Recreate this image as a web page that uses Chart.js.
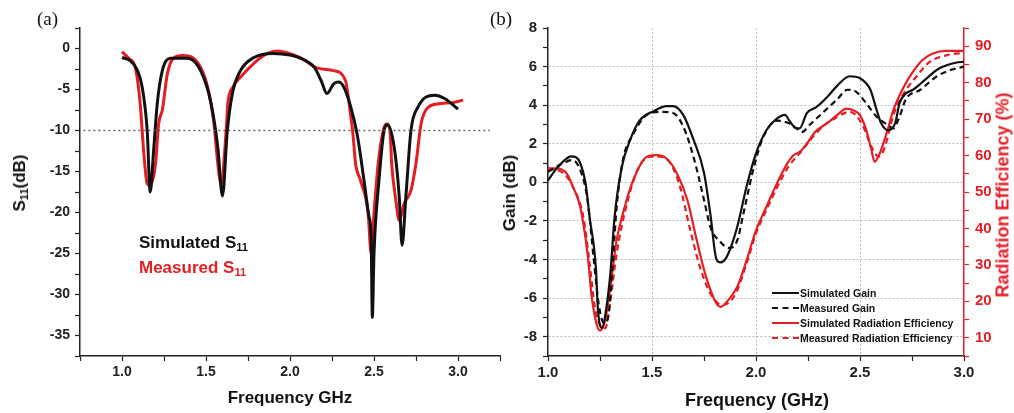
<!DOCTYPE html>
<html>
<head>
<meta charset="utf-8">
<script src="https://cdn.jsdelivr.net/npm/chart.js@4"></script>
<style>
  body { margin: 0; background: #fff; width: 1014px; height: 413px; position: relative; overflow: hidden;
         font-family: "Liberation Sans", Arial, sans-serif; }
  canvas { position: absolute; top: 0; }
  #ca { left: 0; }
  #cb { left: 490px; }
  .lbl { position: absolute; font-family: "Liberation Serif", "Times New Roman", serif; font-size: 19px; color: #111; }
  .ttl { position: absolute; font-weight: bold; white-space: nowrap; color: #111; transform: translate(-50%, -50%); }
  .rot { transform: translate(-50%, -50%) rotate(-90deg); }
  .ttl sub { font-size: 0.65em; vertical-align: -0.25em; }
  .leg { position: absolute; font-weight: bold; white-space: nowrap; font-size: 17px; transform: translateY(-50%); }
  .leg sub { font-size: 0.65em; vertical-align: -0.3em; }
  .lg2 { position: absolute; left: 772px; font-weight: bold; font-size: 10.5px; white-space: nowrap; color: #111;
         transform: translateY(-50%); display: flex; align-items: center; }
  .lg2 i { display: inline-block; width: 27px; margin-right: 1px; border-top: 2.5px solid #111; }
</style>
</head>
<body>
<canvas id="ca" width="503" height="413"></canvas>
<canvas id="cb" width="524" height="413"></canvas>

<div class="lbl" style="left:37px;top:8px">(a)</div>
<div class="lbl" style="left:490px;top:8px">(b)</div>

<div class="ttl rot" style="left:20px;top:183px;font-size:17px">S<sub>11</sub>(dB)</div>
<div class="ttl" style="left:290px;top:398px;font-size:17px">Frequency GHz</div>
<div class="leg" style="left:139px;top:243px;color:#111">Simulated S<sub>11</sub></div>
<div class="leg" style="left:139px;top:268px;color:#e31e24">Measured S<sub>11</sub></div>

<div class="ttl rot" style="left:510px;top:193px;font-size:17px">Gain (dB)</div>
<div class="ttl rot" style="left:1003px;top:195px;font-size:18px;color:#e31e24">Radiation Efficiency (%)</div>
<div class="ttl" style="left:757px;top:400px;font-size:18px">Frequency (GHz)</div>

<div class="lg2" style="top:293px"><i></i>Simulated Gain</div>
<div class="lg2" style="top:308px"><i style="border-top-style:dashed"></i>Measured Gain</div>
<div class="lg2" style="top:323px"><i style="border-top-color:#e31e24"></i>Simulated Radiation Efficiency</div>
<div class="lg2" style="top:338px"><i style="border-top-color:#e31e24;border-top-style:dashed"></i>Measured Radiation Efficiency</div>

<script>
// (a) S11
const simS11Freq = [1.00,1.05,1.09,1.12,1.15,1.168,1.187,1.21,1.24,1.29,1.39,1.47,1.53,1.57,1.598,1.627,1.657,1.705,1.785,1.90,2.00,2.065,2.145,2.185,2.22,2.26,2.29,2.32,2.36,2.40,2.44,2.47,2.483,2.49,2.50,2.53,2.56,2.58,2.62,2.65,2.667,2.69,2.72,2.76,2.86,2.92,3.00];
const simS11Db = [-1.1,-1.5,-2.6,-4.7,-10,-17.5,-12.8,-6.7,-2.7,-1.2,-1.2,-2.8,-6.7,-12,-18,-10,-5.5,-2.7,-1.1,-0.6,-0.8,-1.2,-2.3,-3.9,-5.5,-4.3,-4.1,-4.7,-7.0,-10.5,-16,-20.5,-23,-32.8,-25,-16,-10,-9.3,-12,-18,-24,-18,-10,-7.2,-5.7,-6.1,-7.4];

const measS11Freq = [1.00,1.04,1.08,1.108,1.13,1.15,1.167,1.20,1.218,1.24,1.27,1.305,1.36,1.45,1.51,1.545,1.575,1.59,1.62,1.63,1.66,1.705,1.785,1.865,1.925,2.06,2.165,2.26,2.33,2.36,2.375,2.39,2.42,2.465,2.483,2.50,2.525,2.555,2.573,2.595,2.605,2.63,2.65,2.68,2.72,2.75,2.78,2.82,2.90,2.97,3.03];
const measS11Db = [-0.4,-1.2,-2.4,-6.7,-12.8,-16.5,-16.7,-14,-9.2,-7.5,-3.1,-1.2,-0.85,-1.7,-4.7,-8.8,-14.9,-16.5,-10,-6.7,-4.7,-3.5,-1.8,-0.6,-0.3,-1.1,-2.4,-2.7,-3.9,-8,-10.5,-14,-16.1,-20.1,-25,-20.1,-14,-10,-9.2,-10,-14,-18.5,-21,-18.9,-17.3,-14,-9.2,-7.2,-6.7,-6.6,-6.3];

const thresholdFreq = [0.77, 3.19];
const thresholdDb = [-10, -10];

// (b) gain and radiation efficiency
const simGainFreq = [1.00,1.04,1.08,1.11,1.135,1.155,1.18,1.20,1.23,1.24,1.26,1.275,1.30,1.32,1.355,1.395,1.44,1.51,1.57,1.60,1.65,1.70,1.75,1.78,1.81,1.83,1.86,1.91,1.955,2.00,2.05,2.10,2.14,2.16,2.195,2.21,2.245,2.29,2.34,2.39,2.45,2.50,2.55,2.58,2.60,2.635,2.67,2.69,2.72,2.755,2.80,2.88,2.96,3.00];
const simGain = [0.1,0.7,1.15,1.35,1.3,1.0,0.0,-1.8,-4.4,-6.6,-7.55,-6.9,-4.7,-1.8,0.8,2.2,3.2,3.7,3.95,3.95,3.5,2.2,0.5,-1.6,-4.0,-4.15,-3.85,-2.3,-0.2,1.5,2.7,3.3,3.5,3.2,2.8,2.8,3.6,3.9,4.4,5.0,5.5,5.4,4.8,3.75,3.1,2.7,3.1,4.1,4.6,4.8,5.2,5.9,6.2,6.25];

const measGainFreq = [1.00,1.075,1.115,1.155,1.19,1.22,1.245,1.27,1.29,1.31,1.33,1.36,1.41,1.475,1.54,1.60,1.65,1.70,1.75,1.78,1.83,1.87,1.91,1.94,1.99,2.035,2.10,2.15,2.195,2.22,2.26,2.32,2.39,2.44,2.48,2.53,2.58,2.63,2.66,2.69,2.72,2.79,2.87,2.93,3.00];
const measGain = [0.55,1.0,1.15,0.65,-0.9,-4.0,-6.4,-7.3,-6.95,-4.4,-1.3,1.15,2.5,3.5,3.65,3.6,2.9,1.3,-0.9,-2.3,-3.1,-3.4,-3.0,-1.6,0.8,2.35,3.2,3.1,2.8,2.6,3.0,3.6,4.3,4.8,4.7,4.1,3.4,3.0,2.8,3.4,4.3,4.8,5.5,5.8,6.0];

const simEffFreq = [1.00,1.04,1.09,1.12,1.155,1.19,1.21,1.235,1.25,1.275,1.30,1.33,1.36,1.41,1.475,1.52,1.57,1.62,1.67,1.715,1.76,1.81,1.83,1.86,1.91,1.955,2.00,2.05,2.10,2.15,2.18,2.21,2.245,2.285,2.34,2.39,2.435,2.47,2.50,2.53,2.555,2.57,2.595,2.63,2.66,2.71,2.755,2.80,2.85,2.915,3.00];
const simEff = [56.5,56.5,55.1,51.4,45.9,33.1,21.3,13.5,12.0,14.9,24.0,36.8,44.1,53.3,59.7,60.1,59.2,55.1,47.8,36.8,26.7,19.4,18.5,19.9,24.0,31.3,39.5,45.9,52.3,57.8,60.1,61.0,63.3,66.5,68.8,71.1,72.9,72.4,71.1,67.0,61.5,58.3,60.6,66.5,72.4,78.8,83.0,86.2,88.0,88.7,88.7];

const measEffFreq = [1.00,1.075,1.12,1.17,1.20,1.225,1.25,1.275,1.30,1.33,1.38,1.43,1.49,1.54,1.59,1.635,1.68,1.73,1.78,1.84,1.875,1.91,1.955,2.00,2.065,2.115,2.16,2.21,2.26,2.32,2.39,2.45,2.48,2.52,2.555,2.59,2.62,2.645,2.675,2.72,2.77,2.835,2.915,3.00];
const measEff = [56.5,55.1,51.4,43.2,30.4,18.5,13.5,12.6,20.3,33.1,46.9,56.0,59.7,59.7,57.8,51.4,40.5,29.5,22.2,19.0,19.9,23.1,30.4,38.6,46.9,52.8,57.3,60.6,64.2,67.9,70.6,72.0,71.1,67.4,62.4,59.7,62.4,67.9,73.4,77.9,81.6,85.7,87.5,88.2];

const RED = '#e31e24';
const INK = '#111';

function pts(xs, ys) {
  return xs.map((x, i) => ({ x: x, y: ys[i] }));
}

function line(data, color, width, dash, axis) {
  return {
    data: data,
    borderColor: color,
    borderWidth: width,
    borderDash: dash || [],
    pointRadius: 0,
    fill: false,
    cubicInterpolationMode: 'monotone',
    yAxisID: axis || 'y'
  };
}

const isHalf = v => Math.round(v * 4) % 2 === 0;

const common = {
  responsive: false,
  animation: false,
  devicePixelRatio: 1,
  plugins: { legend: { display: false }, tooltip: { enabled: false } }
};

new Chart(document.getElementById('ca'), {
  type: 'line',
  data: {
    datasets: [
      line(pts(thresholdFreq, thresholdDb), '#666', 1.5, [2, 3]),
      line(pts(simS11Freq, simS11Db), INK, 3),
      line(pts(measS11Freq, measS11Db), RED, 3)
    ]
  },
  options: {
    ...common,
    layout: { padding: { top: 28, right: 3, left: 0, bottom: 0 } },
    scales: {
      x: {
        type: 'linear', min: 0.75, max: 3.25,
        afterFit: s => { s.height = 57; },
        ticks: {
          stepSize: 0.25, autoSkip: false, maxRotation: 0, padding: 3,
          color: '#222', font: { family: 'Liberation Sans', weight: 'bold', size: 14 },
          callback: v => (isHalf(v) && v >= 1 && v <= 3) ? v.toFixed(1) : ''
        },
        grid: { drawOnChartArea: false, tickLength: 5, tickColor: '#222', tickWidth: 1.2 },
        border: { color: '#222', width: 1.5 }
      },
      y: {
        min: -37.5, max: 2.5,
        afterFit: s => { s.width = 80; },
        ticks: {
          stepSize: 2.5, autoSkip: false, padding: 5,
          color: '#222', font: { family: 'Liberation Sans', weight: 'bold', size: 14 },
          callback: v => (Math.round(v / 2.5) % 2 === 0 && v <= 0 && v >= -35) ? String(Math.round(v)) : ''
        },
        grid: { drawOnChartArea: false, tickLength: 5, tickColor: '#222', tickWidth: 1.2 },
        border: { color: '#222', width: 1.5 }
      }
    }
  }
});

new Chart(document.getElementById('cb'), {
  type: 'line',
  data: {
    datasets: [
      line(pts(simGainFreq, simGain), INK, 2.2),
      line(pts(measGainFreq, measGain), INK, 2.2, [6, 4]),
      line(pts(simEffFreq, simEff), RED, 2.2, [], 'y1'),
      line(pts(measEffFreq, measEff), RED, 2.2, [6, 4], 'y1')
    ]
  },
  options: {
    ...common,
    layout: { padding: { top: 28, right: 0, left: 0, bottom: 0 } },
    scales: {
      x: {
        type: 'linear', min: 1, max: 3,
        afterFit: s => { s.height = 57; },
        ticks: {
          stepSize: 0.25, autoSkip: false, maxRotation: 0, padding: 3,
          color: '#222', font: { family: 'Liberation Sans', weight: 'bold', size: 15 },
          callback: v => isHalf(v) ? v.toFixed(1) : ''
        },
        grid: {
          drawOnChartArea: true, tickLength: 5, tickColor: '#222', tickWidth: 1.2,
          color: c => (c.tick && isHalf(c.tick.value) && c.tick.value > 1.01 && c.tick.value < 2.99) ? '#bbb' : 'rgba(0,0,0,0)'
        },
        border: { color: '#222', width: 1.5, dash: [2, 2] }
      },
      y: {
        position: 'left', min: -9, max: 8,
        afterFit: s => { s.width = 58; },
        ticks: {
          stepSize: 1, autoSkip: false, padding: 6,
          color: '#222', font: { family: 'Liberation Sans', weight: 'bold', size: 15 },
          callback: v => (Math.abs(v) % 2 === 0) ? String(v) : ''
        },
        grid: {
          drawOnChartArea: true, tickLength: 5, tickColor: '#222', tickWidth: 1.2,
          color: c => (c.tick && Math.abs(c.tick.value) % 2 === 0 && c.tick.value < 8) ? '#bbb' : 'rgba(0,0,0,0)'
        },
        border: { color: '#222', width: 1.5, dash: [2, 2] }
      },
      y1: {
        position: 'right', min: 5, max: 95,
        afterFit: s => { s.width = 50; },
        ticks: {
          stepSize: 5, autoSkip: false, padding: 6,
          color: RED, font: { family: 'Liberation Sans', weight: 'bold', size: 15 },
          callback: v => (v % 10 === 0) ? String(v) : ''
        },
        grid: { drawOnChartArea: false, tickLength: 5, tickColor: RED, tickWidth: 1.2 },
        border: { color: RED, width: 1.5 }
      }
    }
  }
});
</script>
</body>
</html>
